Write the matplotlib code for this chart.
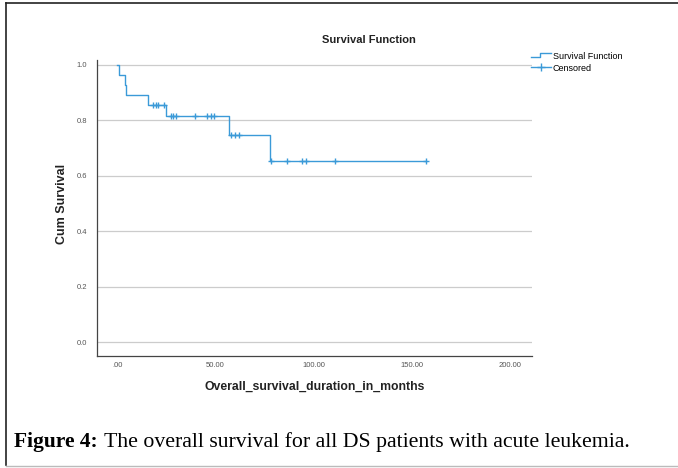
import numpy as np
import matplotlib
matplotlib.use("Agg")
import matplotlib.pyplot as plt
from matplotlib.lines import Line2D
from matplotlib.legend_handler import HandlerBase

# follow-up in months, 1 = death, 0 = censored
times = [1.0, 3.9, 4.4, 15.5, 18.3, 19.7, 20.6, 23.8, 24.6,
         27.3, 28.5, 29.7, 39.6, 45.8, 47.6, 49.2, 57.0,
         57.9, 59.9, 62.0, 77.8, 78.3, 86.3, 94.2, 96.1, 96.1, 110.9, 157.2]
status = [1, 1, 1, 1, 0, 0, 0, 0, 1,
          0, 0, 0, 0, 0, 0, 0, 1,
          0, 0, 0, 1, 0, 0, 0, 0, 0, 0, 0]
xticks = [0, 50, 100, 150, 200]
xtick_labels = [".00", "50.00", "100.00", "150.00", "200.00"]
yticks = [0.0, 0.2, 0.4, 0.6, 0.8, 1.0]

blue = "#3b9ad8"
plt.rcParams["font.family"] = ["Liberation Sans", "DejaVu Sans"]


def kaplan_meier(t, s):
    t = np.array(t)
    s = np.array(s)
    order = np.argsort(t, kind="stable")
    t, s = t[order], s[order]
    at_risk = len(t)
    surv = 1.0
    step_x, step_y = [0.0], [1.0]
    cens_x, cens_y = [], []
    for ti in np.unique(t):
        mask = t == ti
        d = s[mask].sum()
        c = mask.sum() - d
        if d > 0:
            surv *= (at_risk - d) / at_risk
            step_x.append(ti)
            step_y.append(surv)
        if c > 0:
            cens_x.append(ti)
            cens_y.append(surv)
        at_risk -= mask.sum()
    step_x.append(t.max())
    step_y.append(surv)
    return step_x, step_y, cens_x, cens_y


class StepHandler(HandlerBase):
    def create_artists(self, legend, orig, xd, yd, w, h, fontsize, trans):
        xs = [xd, xd + w * 0.45, xd + w * 0.45, xd + w]
        ys = [yd + h * 0.25, yd + h * 0.25, yd + h * 0.85, yd + h * 0.85]
        ln = Line2D(xs, ys, color=blue, lw=1.0, transform=trans)
        return [ln]


sx, sy, cx, cy = kaplan_meier(times, status)

fig = plt.figure(figsize=(6.78, 4.68), dpi=100)
ax = fig.add_axes([0.1431, 0.2393, 0.6417, 0.6325])

surv_line, = ax.step(sx, sy, where="post", color=blue, lw=1.0)
cens_pts, = ax.plot(cx, cy, "+", color=blue, ms=5, mew=1.0, ls="none")

ax.set_xlim(-10.3, 211.2)
ax.set_ylim(-0.05, 1.018)
ax.set_xticks(xticks)
ax.set_xticklabels(xtick_labels)
ax.set_yticks(yticks)
ax.set_yticklabels(["%.1f" % v for v in yticks])
ax.tick_params(axis="x", length=0, labelsize=5.5, labelcolor="#555555", pad=4)
ax.tick_params(axis="y", length=0, labelsize=5.5, labelcolor="#555555", pad=7)
ax.grid(axis="y", color="#cccccc", lw=0.9)
ax.set_axisbelow(True)
for side in ["top", "right"]:
    ax.spines[side].set_visible(False)
for side in ["left", "bottom"]:
    ax.spines[side].set_color("#444444")
    ax.spines[side].set_linewidth(0.9)

fig.text(0.544, 0.914, "Survival Function", ha="center", va="center",
         fontsize=8, fontweight="bold", color="#222222")
ax.set_xlabel("Overall_survival_duration_in_months", fontsize=8.8,
              fontweight="bold", color="#222222", labelpad=9)
fig.text(0.092, 0.565, "Cum Survival", rotation=90, ha="center", va="center",
         fontsize=9, fontweight="bold", color="#222222")

cens_handle = Line2D([], [], color=blue, lw=1.0, marker="+", ms=6, mew=1.0)
fig.legend([surv_line, cens_handle], ["Survival Function", "Censored"],
           handler_map={surv_line: StepHandler()},
           loc="upper left", bbox_to_anchor=(0.778, 0.897),
           frameon=False, fontsize=6.5, handlelength=2.2, handletextpad=0.2,
           labelspacing=0.3, borderaxespad=0)

# page frame and caption
fig.add_artist(Line2D([0.009, 0.009], [0.006, 0.994], color="#222222", lw=1.2))
fig.add_artist(Line2D([0.009, 1.0], [0.994, 0.994], color="#222222", lw=1.2))
fig.add_artist(Line2D([0.009, 1.0], [0.004, 0.004], color="#bbbbbb", lw=1.0))
serif = ["Liberation Serif", "DejaVu Serif"]
fig.text(0.021, 0.045, "Figure 4:", fontsize=15.5, fontweight="bold",
         family=serif, va="baseline")
fig.text(0.153, 0.045, "The overall survival for all DS patients with acute leukemia.",
         fontsize=15.7, family=serif, va="baseline")

fig.savefig("out.png", dpi=100)
